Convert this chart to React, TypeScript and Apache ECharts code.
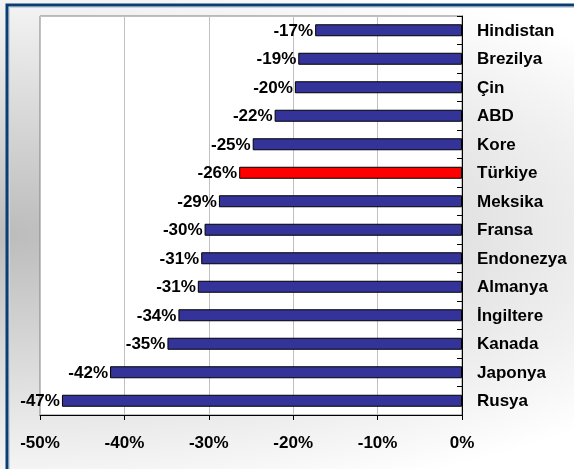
import React, { useEffect, useRef } from "react";
import * as echarts from "echarts";

const categories = [
  "Hindistan", "Brezilya", "Çin", "ABD", "Kore", "Türkiye", "Meksika",
  "Fransa", "Endonezya", "Almanya", "İngiltere", "Kanada", "Japonya", "Rusya",
];
const values = [
  -17.4, -19.4, -19.8, -22.2, -24.8, -26.4, -28.8,
  -30.5, -30.9, -31.3, -33.6, -34.9, -41.7, -47.4,
];
const highlight = "Türkiye";
const xTicks = [-50, -40, -30, -20, -10, 0];

const FONT = "'Liberation Sans', Arial, sans-serif";

export default function App() {
  const ref = useRef<HTMLDivElement>(null);
  useEffect(() => {
    if (!ref.current) return;
    const chart = echarts.init(ref.current, undefined, { renderer: "svg" });
    chart.setOption({
      animation: false,
      grid: {
        left: 40,
        right: 112,
        top: 16,
        bottom: 54,
        show: true,
        backgroundColor: "#ffffff",
        borderColor: "#808080",
        borderWidth: 1,
      },
      graphic: [
        {
          type: "rect",
          shape: { x: 9.5, y: 7.5, width: 700, height: 600 },
          style: { fill: "none", stroke: "#c8d4e2", lineWidth: 1 },
          silent: true,
        },
        {
          type: "rect",
          shape: { x: 7, y: 5, width: 700, height: 600 },
          style: { fill: "none", stroke: "#0b3c72", lineWidth: 3 },
          silent: true,
        },
      ],
      xAxis: {
        type: "value",
        min: xTicks[0],
        max: xTicks[xTicks.length - 1],
        interval: 10,
        position: "bottom",
        axisLine: { show: true, onZero: false, lineStyle: { color: "#000", width: 1 } },
        axisTick: { show: true, inside: false, length: 5, lineStyle: { color: "#000" } },
        axisLabel: {
          formatter: (v: number) => `${v}%`,
          color: "#000",
          fontFamily: FONT,
          fontWeight: "bold",
          fontSize: 17,
          margin: 19,
        },
        splitLine: { show: true, lineStyle: { color: "#c0c0c0", width: 1 } },
      },
      yAxis: {
        type: "category",
        data: categories,
        inverse: true,
        position: "right",
        axisLine: { show: true, lineStyle: { color: "#000", width: 1 } },
        axisTick: { show: true, inside: true, length: 5, lineStyle: { color: "#000" } },
        axisLabel: {
          color: "#000",
          fontFamily: FONT,
          fontWeight: "bold",
          fontSize: 17,
          margin: 15,
          align: "left",
        },
        splitLine: { show: false },
      },
      series: [
        {
          type: "bar",
          barWidth: 12,
          data: values.map((v, i) => ({
            value: v,
            itemStyle: {
              color: categories[i] === highlight ? "#ff0000" : "#333399",
            },
          })),
          itemStyle: { borderColor: "#000", borderWidth: 1 },
          label: {
            show: true,
            position: "left",
            distance: 2,
            formatter: (p: any) => `${Math.round(p.value)}%`,
            color: "#000",
            fontFamily: FONT,
            fontWeight: "bold",
            fontSize: 17,
          },
        },
      ],
    });
    return () => chart.dispose();
  }, []);
  return (
    <div
      ref={ref}
      style={{
        position: "fixed",
        left: 0,
        top: 0,
        width: 574,
        height: 469,
        background:
          "radial-gradient(ellipse 140% 60% at 0% 50%, #bcbcbc 0%, #ffffff 100%)",
      }}
    />
  );
}
